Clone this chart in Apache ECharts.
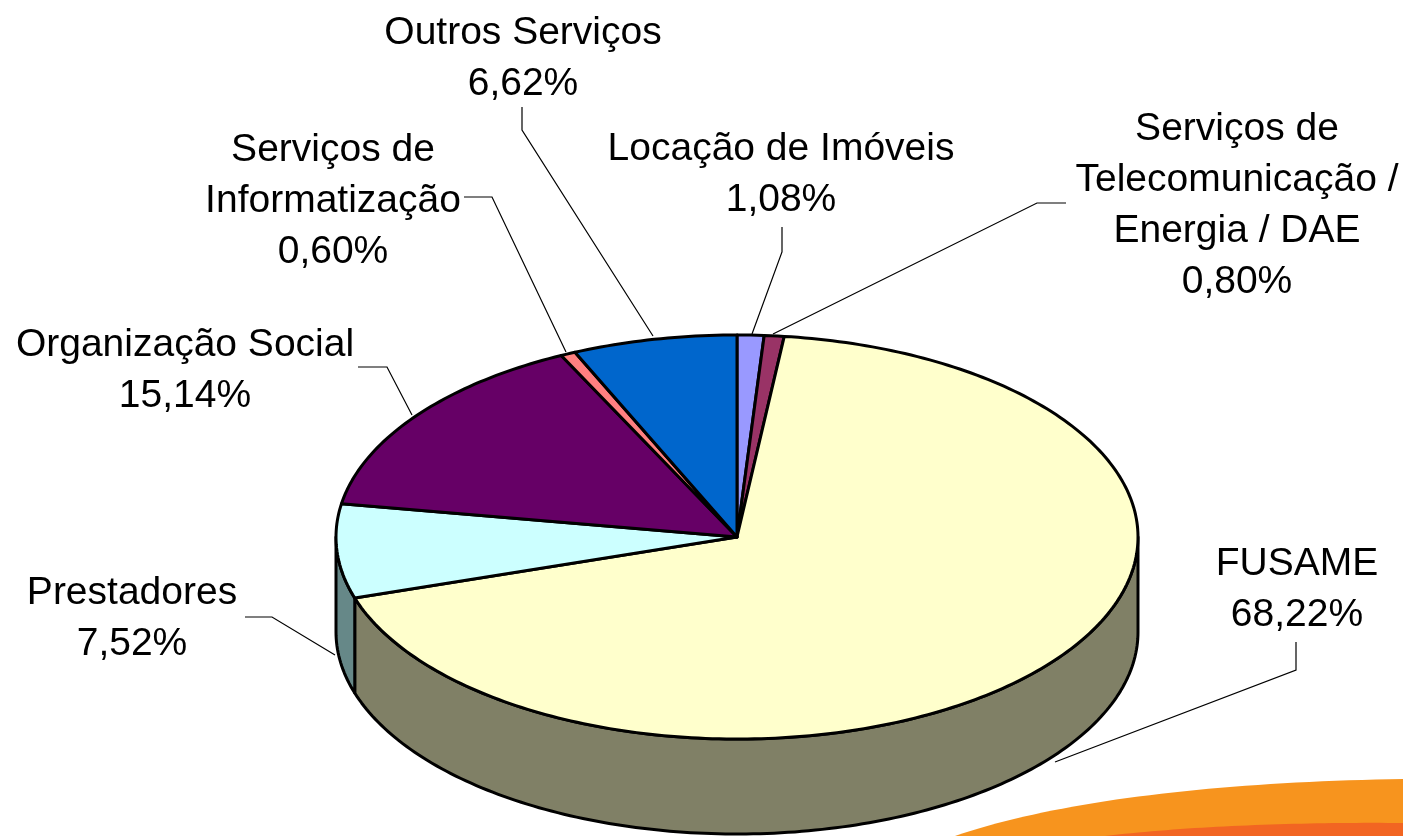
<!DOCTYPE html>
<html><head><meta charset="utf-8">
<style>html,body{margin:0;padding:0;background:#fff}#c{width:1403px;height:836px}</style>
<script src="https://cdn.jsdelivr.net/npm/echarts@6/dist/echarts.min.js"></script>
</head><body><div id="c"></div>
<script>
// Slices, clockwise from 12 o'clock
const categories = ['Locação de Imóveis','Serviços de\nTelecomunicação /\nEnergia / DAE','FUSAME','Prestadores','Organização Social','Serviços de\nInformatização','Outros Serviços'];
const percentages = [1.08,0.80,68.22,7.52,15.14,0.60,6.62];
const percentLabels = ['1,08%','0,80%','68,22%','7,52%','15,14%','0,60%','6,62%'];
const topColors = ['#9999FF','#993366','#FFFFCC','#CCFFFF','#660066','#FF8080','#0066CC'];
const sideColors = ['#666699','#662244','#808066','#668888','#440044','#AA5555','#004488'];
// Label centres (x, first-line y) and leader polylines, in pixels
const labelAnchors = [[781,147],[1237,127],[1297,562],[132,591],[185,343],[333,148],[523,31]];
const leaders = [
  [[782,227],[782,252],[752,334]],
  [[1066,203],[1037,203],[773,334]],
  [[1296,642],[1296,670],[1055,762]],
  [[245,617],[272,617],[335,655]],
  [[358,367],[387,367],[412,415]],
  [[464,197],[492,197],[566,352]],
  [[522,107],[522,130],[653,336]]
];
const depth = 0.47;           // wall height in ellipse-radius units
const total = percentages.reduce((a,b)=>a+b,0);
let acc = 0;
const spans = percentages.map((v,i)=>{const s=acc/total*360;acc+=v;return [s,acc/total*360,i];});

const rad = d => d*Math.PI/180;
function arc(a,b,dy){
  const pts=[],n=Math.max(2,Math.ceil((b-a)));
  for(let k=0;k<=n;k++){const t=rad(a+(b-a)*k/n);pts.push([Math.sin(t),Math.cos(t)-dy]);}
  return pts;
}
const lineStyle = {stroke:'#000',lineWidth:3,lineJoin:'round'};

// Decorative swoosh in the lower right corner
function curve(p0,p1,p2,p3){
  const out=[];
  for(let k=0;k<=40;k++){const t=k/40,u=1-t;
    out.push([0,1].map(j=>u*u*u*p0[j]+3*u*u*t*p1[j]+3*u*t*t*p2[j]+t*t*t*p3[j]));}
  return out;
}
const swoosh = [
  {type:'polygon',silent:true,z:0,shape:{points:curve([955,836],[1060,800],[1220,782],[1403,779]).concat([[1403,836]])},style:{fill:'#F7941E'}},
  {type:'polygon',silent:true,z:0,shape:{points:curve([1105,836],[1190,826],[1300,822],[1403,823]).concat([[1403,836]])},style:{fill:'#F26522'}}
];

const chart = echarts.init(document.getElementById('c'),null,{renderer:'canvas'});
chart.setOption({
  animation:false,
  backgroundColor:'#fff',
  grid:{left:336,top:335,width:802,height:499},
  xAxis:{type:'value',min:-1,max:1,show:false},
  yAxis:{type:'value',min:-1-depth,max:1,show:false},
  graphic:{elements:swoosh},
  series:[
    {type:'custom',name:'walls',clip:false,z:2,coordinateSystem:'cartesian2d',
     data:spans,
     renderItem(p,api){
       const a=Math.max(api.value(0),90),b=Math.min(api.value(1),270);
       if(b<=a) return {type:'group',children:[]};
       const up=arc(a,b,0),down=arc(a,b,depth).reverse();
       const pts=up.concat(down).map(q=>api.coord(q));
       return {type:'polygon',shape:{points:pts},style:Object.assign({fill:sideColors[api.value(2)]},lineStyle)};
     }},
    {type:'custom',name:'tops',clip:false,z:3,coordinateSystem:'cartesian2d',
     data:spans,
     renderItem(p,api){
       const pts=[[0,0]].concat(arc(api.value(0),api.value(1),0)).map(q=>api.coord(q));
       return {type:'polygon',shape:{points:pts},style:Object.assign({fill:topColors[api.value(2)]},lineStyle)};
     }},
    {type:'custom',name:'labels',clip:false,z:4,coordinateSystem:'cartesian2d',
     data:spans,
     renderItem(p,api){
       const i=api.value(2);
       const lines=(categories[i]+'\n'+percentLabels[i]);
       return {type:'group',children:[
         {type:'polyline',shape:{points:leaders[i]},style:{stroke:'#000',lineWidth:1.2,fill:'none'}},
         {type:'text',x:labelAnchors[i][0],y:labelAnchors[i][1]-23,
          style:{text:lines,fill:'#000',font:'39px "Liberation Sans"',lineHeight:51,align:'center',verticalAlign:'top'}}
       ]};
     }}
  ]
});
</script></body></html>
